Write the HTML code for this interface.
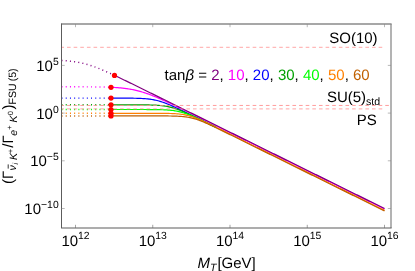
<!DOCTYPE html>
<html><head><meta charset="utf-8"><title>plot</title>
<style>
html,body{margin:0;padding:0;background:#fff;}
body{width:415px;height:271px;overflow:hidden;font-family:"Liberation Sans",sans-serif;}
svg{display:block;will-change:transform;}
text{font-family:"Liberation Sans",sans-serif;fill:#000;text-rendering:geometricPrecision;}
</style></head><body>
<svg width="415" height="271" viewBox="0 0 415 271">
<rect width="415" height="271" fill="#fff"/>

<path d="M111.00 87.31 L112.00 87.35 L113.00 87.40 L114.00 87.46 L115.00 87.51 L116.00 87.58 L117.00 87.64 L118.00 87.72 L119.00 87.79 L120.00 87.88 L121.00 87.97 L122.00 88.07 L123.00 88.17 L124.00 88.29 L125.00 88.41 L126.00 88.54 L127.00 88.67 L128.00 88.82 L129.00 88.98 L130.00 89.14 L131.00 89.32 L132.00 89.51 L133.00 89.70 L134.00 89.91 L135.00 90.13 L136.00 90.36 L137.00 90.60 L138.00 90.85 L139.00 91.11 L140.00 91.38 L141.00 91.67 L142.00 91.96 L143.00 92.27 L144.00 92.58 L145.00 92.91 L146.00 93.24 L147.00 93.59 L148.00 93.94 L149.00 94.30 L150.00 94.68 L151.00 95.05 L152.00 95.44 L153.00 95.84 L154.00 96.24 L155.00 96.65 L156.00 97.06 L157.00 97.48 L158.00 97.90 L159.00 98.33 L160.00 98.77 L161.00 99.21 L162.00 99.65 L163.00 100.10 L164.00 100.55 L165.00 101.01 L166.00 101.46 L167.00 101.92 L168.00 102.39 L169.00 102.85 L170.00 103.32 L171.00 103.79 L172.00 104.26 L173.00 104.74 L174.00 105.21 L175.00 105.69 L176.00 106.17 L177.00 106.65 L178.00 107.13 L179.00 107.61 L180.00 108.10 L181.00 108.58 L182.00 109.06 L183.00 109.55 L184.00 110.04 L185.00 110.52 L186.00 111.01 L187.00 111.50 L188.00 111.99 L189.00 112.48 L190.00 112.97 L191.00 113.46 L192.00 113.95 L193.00 114.44 L194.00 114.93 L195.00 115.42 L196.00 115.91 L197.00 116.40 L198.00 116.89 L199.00 117.38 L200.00 117.88 L201.00 118.37 L202.00 118.86 L203.00 119.35 L204.00 119.85 L205.00 120.34 L206.00 120.83 L207.00 121.33 L208.00 121.82 L209.00 122.31 L210.00 122.80 L211.00 123.30 L212.00 123.79 L213.00 124.28 L214.00 124.78 L215.00 125.27 L216.00 125.77 L217.00 126.26 L218.00 126.75 L219.00 127.25 L220.00 127.74 L221.00 128.23 L222.00 128.73 L223.00 129.22 L224.00 129.71 L225.00 130.21 L226.00 130.70 L227.00 131.20 L228.00 131.69 L229.00 132.18 L230.00 132.68 L231.00 133.17 L232.00 133.67 L233.00 134.16 L234.00 134.65 L235.00 135.15 L236.00 135.64 L237.00 136.13 L238.00 136.63 L239.00 137.12 L240.00 137.62 L241.00 138.11 L242.00 138.60 L243.00 139.10 L244.00 139.59 L245.00 140.09 L246.00 140.58 L247.00 141.07 L248.00 141.57 L249.00 142.06 L250.00 142.56 L251.00 143.05 L252.00 143.54 L253.00 144.04 L254.00 144.53 L255.00 145.03 L256.00 145.52 L257.00 146.01 L258.00 146.51 L259.00 147.00 L260.00 147.50 L261.00 147.99 L262.00 148.48 L263.00 148.98 L264.00 149.47 L265.00 149.97 L266.00 150.46 L267.00 150.95 L268.00 151.45 L269.00 151.94 L270.00 152.44 L271.00 152.93 L272.00 153.42 L273.00 153.92 L274.00 154.41 L275.00 154.91 L276.00 155.40 L277.00 155.89 L278.00 156.39 L279.00 156.88 L280.00 157.38 L281.00 157.87 L282.00 158.36 L283.00 158.86 L284.00 159.35 L285.00 159.85 L286.00 160.34 L287.00 160.83 L288.00 161.33 L289.00 161.82 L290.00 162.31 L291.00 162.81 L292.00 163.30 L293.00 163.80 L294.00 164.29 L295.00 164.78 L296.00 165.28 L297.00 165.77 L298.00 166.27 L299.00 166.76 L300.00 167.25 L301.00 167.75 L302.00 168.24 L303.00 168.74 L304.00 169.23 L305.00 169.72 L306.00 170.22 L307.00 170.71 L308.00 171.21 L309.00 171.70 L310.00 172.19 L311.00 172.69 L312.00 173.18 L313.00 173.68 L314.00 174.17 L315.00 174.66 L316.00 175.16 L317.00 175.65 L318.00 176.15 L319.00 176.64 L320.00 177.13 L321.00 177.63 L322.00 178.12 L323.00 178.62 L324.00 179.11 L325.00 179.60 L326.00 180.10 L327.00 180.59 L328.00 181.09 L329.00 181.58 L330.00 182.07 L331.00 182.57 L332.00 183.06 L333.00 183.56 L334.00 184.05 L335.00 184.54 L336.00 185.04 L337.00 185.53 L338.00 186.03 L339.00 186.52 L340.00 187.01 L341.00 187.51 L342.00 188.00 L343.00 188.50 L344.00 188.99 L345.00 189.48 L346.00 189.98 L347.00 190.47 L348.00 190.97 L349.00 191.46 L350.00 191.95 L351.00 192.45 L352.00 192.94 L353.00 193.44 L354.00 193.93 L355.00 194.42 L356.00 194.92 L357.00 195.41 L358.00 195.91 L359.00 196.40 L360.00 196.89 L361.00 197.39 L362.00 197.88 L363.00 198.38 L364.00 198.87 L365.00 199.36 L366.00 199.86 L367.00 200.35 L368.00 200.85 L369.00 201.34 L370.00 201.83 L371.00 202.33 L372.00 202.82 L373.00 203.32 L374.00 203.81 L375.00 204.30 L376.00 204.80 L377.00 205.29 L378.00 205.79 L379.00 206.28 L380.00 206.77 L381.00 207.27 L382.00 207.76 L383.00 208.26 L384.00 208.75 L384.50 209.00" fill="none" stroke="#ff00ff" stroke-width="1.2"/>
<path d="M111.00 98.11 L112.00 98.11 L113.00 98.11 L114.00 98.11 L115.00 98.11 L116.00 98.11 L117.00 98.11 L118.00 98.12 L119.00 98.12 L120.00 98.12 L121.00 98.12 L122.00 98.13 L123.00 98.13 L124.00 98.13 L125.00 98.14 L126.00 98.14 L127.00 98.15 L128.00 98.16 L129.00 98.17 L130.00 98.18 L131.00 98.19 L132.00 98.20 L133.00 98.21 L134.00 98.23 L135.00 98.25 L136.00 98.27 L137.00 98.30 L138.00 98.32 L139.00 98.36 L140.00 98.40 L141.00 98.44 L142.00 98.49 L143.00 98.54 L144.00 98.61 L145.00 98.68 L146.00 98.76 L147.00 98.85 L148.00 98.95 L149.00 99.06 L150.00 99.19 L151.00 99.33 L152.00 99.48 L153.00 99.65 L154.00 99.84 L155.00 100.05 L156.00 100.27 L157.00 100.51 L158.00 100.76 L159.00 101.04 L160.00 101.33 L161.00 101.64 L162.00 101.96 L163.00 102.30 L164.00 102.66 L165.00 103.02 L166.00 103.41 L167.00 103.80 L168.00 104.20 L169.00 104.62 L170.00 105.04 L171.00 105.47 L172.00 105.91 L173.00 106.36 L174.00 106.81 L175.00 107.27 L176.00 107.73 L177.00 108.19 L178.00 108.66 L179.00 109.13 L180.00 109.61 L181.00 110.09 L182.00 110.57 L183.00 111.05 L184.00 111.53 L185.00 112.02 L186.00 112.50 L187.00 112.99 L188.00 113.48 L189.00 113.97 L190.00 114.45 L191.00 114.94 L192.00 115.44 L193.00 115.93 L194.00 116.42 L195.00 116.91 L196.00 117.40 L197.00 117.89 L198.00 118.39 L199.00 118.88 L200.00 119.37 L201.00 119.86 L202.00 120.36 L203.00 120.85 L204.00 121.34 L205.00 121.84 L206.00 122.33 L207.00 122.82 L208.00 123.32 L209.00 123.81 L210.00 124.31 L211.00 124.80 L212.00 125.29 L213.00 125.79 L214.00 126.28 L215.00 126.77 L216.00 127.27" fill="none" stroke="#0000ff" stroke-width="1.2"/>
<path d="M111.00 104.80 L112.00 104.80 L113.00 104.80 L114.00 104.80 L115.00 104.80 L116.00 104.80 L117.00 104.80 L118.00 104.80 L119.00 104.80 L120.00 104.80 L121.00 104.80 L122.00 104.80 L123.00 104.80 L124.00 104.80 L125.00 104.81 L126.00 104.81 L127.00 104.81 L128.00 104.81 L129.00 104.81 L130.00 104.81 L131.00 104.81 L132.00 104.81 L133.00 104.82 L134.00 104.82 L135.00 104.82 L136.00 104.83 L137.00 104.83 L138.00 104.83 L139.00 104.84 L140.00 104.84 L141.00 104.85 L142.00 104.86 L143.00 104.87 L144.00 104.88 L145.00 104.89 L146.00 104.90 L147.00 104.92 L148.00 104.94 L149.00 104.96 L150.00 104.98 L151.00 105.01 L152.00 105.04 L153.00 105.07 L154.00 105.11 L155.00 105.16 L156.00 105.21 L157.00 105.27 L158.00 105.34 L159.00 105.42 L160.00 105.50 L161.00 105.60 L162.00 105.71 L163.00 105.83 L164.00 105.96 L165.00 106.11 L166.00 106.27 L167.00 106.45 L168.00 106.65 L169.00 106.86 L170.00 107.09 L171.00 107.34 L172.00 107.61 L173.00 107.89 L174.00 108.19 L175.00 108.51 L176.00 108.84 L177.00 109.19 L178.00 109.55 L179.00 109.93 L180.00 110.31 L181.00 110.71 L182.00 111.12 L183.00 111.54 L184.00 111.97 L185.00 112.41 L186.00 112.85 L187.00 113.30 L188.00 113.75 L189.00 114.21 L190.00 114.68 L191.00 115.14 L192.00 115.61 L193.00 116.09 L194.00 116.56 L195.00 117.04 L196.00 117.52 L197.00 118.01 L198.00 118.49 L199.00 118.98 L200.00 119.46 L201.00 119.95 L202.00 120.44 L203.00 120.93 L204.00 121.42 L205.00 121.91 L206.00 122.40 L207.00 122.89 L208.00 123.38 L209.00 123.87 L210.00 124.36 L211.00 124.86 L212.00 125.35 L213.00 125.84 L214.00 126.33 L215.00 126.83 L216.00 127.32" fill="none" stroke="#00a000" stroke-width="1.2"/>
<path d="M111.00 109.50 L112.00 109.50 L113.00 109.50 L114.00 109.50 L115.00 109.50 L116.00 109.50 L117.00 109.50 L118.00 109.50 L119.00 109.50 L120.00 109.50 L121.00 109.50 L122.00 109.50 L123.00 109.50 L124.00 109.50 L125.00 109.50 L126.00 109.50 L127.00 109.50 L128.00 109.50 L129.00 109.51 L130.00 109.51 L131.00 109.51 L132.00 109.51 L133.00 109.51 L134.00 109.51 L135.00 109.51 L136.00 109.51 L137.00 109.51 L138.00 109.51 L139.00 109.51 L140.00 109.51 L141.00 109.51 L142.00 109.52 L143.00 109.52 L144.00 109.52 L145.00 109.52 L146.00 109.52 L147.00 109.53 L148.00 109.53 L149.00 109.54 L150.00 109.54 L151.00 109.55 L152.00 109.56 L153.00 109.56 L154.00 109.57 L155.00 109.58 L156.00 109.60 L157.00 109.61 L158.00 109.63 L159.00 109.65 L160.00 109.67 L161.00 109.70 L162.00 109.73 L163.00 109.76 L164.00 109.80 L165.00 109.85 L166.00 109.90 L167.00 109.96 L168.00 110.03 L169.00 110.10 L170.00 110.19 L171.00 110.29 L172.00 110.40 L173.00 110.52 L174.00 110.66 L175.00 110.82 L176.00 110.99 L177.00 111.17 L178.00 111.38 L179.00 111.60 L180.00 111.84 L181.00 112.10 L182.00 112.38 L183.00 112.67 L184.00 112.98 L185.00 113.31 L186.00 113.66 L187.00 114.02 L188.00 114.39 L189.00 114.78 L190.00 115.18 L191.00 115.59 L192.00 116.01 L193.00 116.44 L194.00 116.87 L195.00 117.32 L196.00 117.77 L197.00 118.23 L198.00 118.69 L199.00 119.15 L200.00 119.62 L201.00 120.09 L202.00 120.57 L203.00 121.04 L204.00 121.52 L205.00 122.01 L206.00 122.49 L207.00 122.97 L208.00 123.46 L209.00 123.95 L210.00 124.44 L211.00 124.92 L212.00 125.41 L213.00 125.90 L214.00 126.40 L215.00 126.89 L216.00 127.38" fill="none" stroke="#00ff00" stroke-width="1.2"/>
<path d="M111.00 113.30 L112.00 113.30 L113.00 113.30 L114.00 113.30 L115.00 113.30 L116.00 113.30 L117.00 113.30 L118.00 113.30 L119.00 113.30 L120.00 113.30 L121.00 113.30 L122.00 113.30 L123.00 113.30 L124.00 113.30 L125.00 113.30 L126.00 113.30 L127.00 113.30 L128.00 113.30 L129.00 113.30 L130.00 113.30 L131.00 113.30 L132.00 113.30 L133.00 113.30 L134.00 113.30 L135.00 113.30 L136.00 113.30 L137.00 113.30 L138.00 113.30 L139.00 113.30 L140.00 113.30 L141.00 113.30 L142.00 113.30 L143.00 113.30 L144.00 113.30 L145.00 113.30 L146.00 113.31 L147.00 113.31 L148.00 113.31 L149.00 113.31 L150.00 113.31 L151.00 113.31 L152.00 113.31 L153.00 113.31 L154.00 113.32 L155.00 113.32 L156.00 113.32 L157.00 113.33 L158.00 113.33 L159.00 113.34 L160.00 113.34 L161.00 113.35 L162.00 113.36 L163.00 113.37 L164.00 113.38 L165.00 113.39 L166.00 113.40 L167.00 113.42 L168.00 113.44 L169.00 113.47 L170.00 113.49 L171.00 113.52 L172.00 113.56 L173.00 113.60 L174.00 113.65 L175.00 113.70 L176.00 113.77 L177.00 113.84 L178.00 113.92 L179.00 114.01 L180.00 114.12 L181.00 114.24 L182.00 114.37 L183.00 114.52 L184.00 114.68 L185.00 114.87 L186.00 115.07 L187.00 115.29 L188.00 115.52 L189.00 115.78 L190.00 116.06 L191.00 116.35 L192.00 116.67 L193.00 117.00 L194.00 117.35 L195.00 117.71 L196.00 118.09 L197.00 118.48 L198.00 118.88 L199.00 119.29 L200.00 119.72 L201.00 120.15 L202.00 120.59 L203.00 121.04 L204.00 121.49 L205.00 121.95 L206.00 122.41 L207.00 122.88 L208.00 123.35 L209.00 123.82 L210.00 124.30 L211.00 124.78 L212.00 125.26 L213.00 125.75 L214.00 126.23 L215.00 126.72 L216.00 127.20 L217.00 127.69 L218.00 128.18 L219.00 128.67 L220.00 129.16 L221.00 129.65 L222.00 130.14 L223.00 130.63 L224.00 131.13 L225.00 131.62 L226.00 132.11 L227.00 132.60 L228.00 133.10 L229.00 133.59 L230.00 134.08 L231.00 134.58 L232.00 135.07 L233.00 135.56 L234.00 136.06 L235.00 136.55 L236.00 137.04 L237.00 137.54 L238.00 138.03 L239.00 138.53 L240.00 139.02 L241.00 139.51 L242.00 140.01 L243.00 140.50 L244.00 140.99 L245.00 141.49 L246.00 141.98 L247.00 142.48 L248.00 142.97 L249.00 143.46 L250.00 143.96 L251.00 144.45 L252.00 144.95 L253.00 145.44 L254.00 145.93 L255.00 146.43 L256.00 146.92 L257.00 147.42 L258.00 147.91 L259.00 148.40 L260.00 148.90 L261.00 149.39 L262.00 149.89 L263.00 150.38 L264.00 150.87 L265.00 151.37 L266.00 151.86 L267.00 152.36 L268.00 152.85 L269.00 153.34 L270.00 153.84 L271.00 154.33 L272.00 154.83 L273.00 155.32 L274.00 155.81 L275.00 156.31 L276.00 156.80 L277.00 157.30 L278.00 157.79 L279.00 158.28 L280.00 158.78 L281.00 159.27 L282.00 159.77 L283.00 160.26 L284.00 160.75 L285.00 161.25 L286.00 161.74 L287.00 162.24 L288.00 162.73 L289.00 163.22 L290.00 163.72 L291.00 164.21 L292.00 164.71 L293.00 165.20 L294.00 165.69 L295.00 166.19 L296.00 166.68 L297.00 167.18 L298.00 167.67 L299.00 168.16 L300.00 168.66 L301.00 169.15 L302.00 169.65 L303.00 170.14 L304.00 170.63 L305.00 171.13 L306.00 171.62 L307.00 172.11 L308.00 172.61 L309.00 173.10 L310.00 173.60 L311.00 174.09 L312.00 174.58 L313.00 175.08 L314.00 175.57 L315.00 176.07 L316.00 176.56 L317.00 177.05 L318.00 177.55 L319.00 178.04 L320.00 178.54 L321.00 179.03 L322.00 179.52 L323.00 180.02 L324.00 180.51 L325.00 181.01 L326.00 181.50 L327.00 181.99 L328.00 182.49 L329.00 182.98 L330.00 183.48 L331.00 183.97 L332.00 184.46 L333.00 184.96 L334.00 185.45 L335.00 185.95 L336.00 186.44 L337.00 186.93 L338.00 187.43 L339.00 187.92 L340.00 188.42 L341.00 188.91 L342.00 189.40 L343.00 189.90 L344.00 190.39 L345.00 190.89 L346.00 191.38 L347.00 191.87 L348.00 192.37 L349.00 192.86 L350.00 193.36 L351.00 193.85 L352.00 194.34 L353.00 194.84 L354.00 195.33 L355.00 195.83 L356.00 196.32 L357.00 196.81 L358.00 197.31 L359.00 197.80 L360.00 198.30 L361.00 198.79 L362.00 199.28 L363.00 199.78 L364.00 200.27 L365.00 200.77 L366.00 201.26 L367.00 201.75 L368.00 202.25 L369.00 202.74 L370.00 203.24 L371.00 203.73 L372.00 204.22 L373.00 204.72 L374.00 205.21 L375.00 205.71 L376.00 206.20 L377.00 206.69 L378.00 207.19 L379.00 207.68 L380.00 208.18 L381.00 208.67 L382.00 209.16 L383.00 209.66 L384.00 210.15 L384.50 210.40" fill="none" stroke="#ff8000" stroke-width="1.2"/>
<path d="M111.00 115.90 L112.00 115.90 L113.00 115.90 L114.00 115.90 L115.00 115.90 L116.00 115.90 L117.00 115.90 L118.00 115.90 L119.00 115.90 L120.00 115.90 L121.00 115.90 L122.00 115.90 L123.00 115.90 L124.00 115.90 L125.00 115.90 L126.00 115.90 L127.00 115.90 L128.00 115.90 L129.00 115.90 L130.00 115.90 L131.00 115.90 L132.00 115.90 L133.00 115.90 L134.00 115.90 L135.00 115.90 L136.00 115.90 L137.00 115.90 L138.00 115.90 L139.00 115.90 L140.00 115.90 L141.00 115.90 L142.00 115.90 L143.00 115.90 L144.00 115.90 L145.00 115.90 L146.00 115.90 L147.00 115.90 L148.00 115.90 L149.00 115.90 L150.00 115.90 L151.00 115.91 L152.00 115.91 L153.00 115.91 L154.00 115.91 L155.00 115.91 L156.00 115.91 L157.00 115.91 L158.00 115.92 L159.00 115.92 L160.00 115.92 L161.00 115.93 L162.00 115.93 L163.00 115.93 L164.00 115.94 L165.00 115.95 L166.00 115.95 L167.00 115.96 L168.00 115.97 L169.00 115.99 L170.00 116.00 L171.00 116.02 L172.00 116.04 L173.00 116.06 L174.00 116.08 L175.00 116.11 L176.00 116.15 L177.00 116.19 L178.00 116.24 L179.00 116.29 L180.00 116.35 L181.00 116.42 L182.00 116.50 L183.00 116.59 L184.00 116.69 L185.00 116.81 L186.00 116.93 L187.00 117.08 L188.00 117.24 L189.00 117.42 L190.00 117.62 L191.00 117.83 L192.00 118.06 L193.00 118.32 L194.00 118.59 L195.00 118.88 L196.00 119.19 L197.00 119.52 L198.00 119.86 L199.00 120.22 L200.00 120.59 L201.00 120.98 L202.00 121.38 L203.00 121.79 L204.00 122.21 L205.00 122.64 L206.00 123.08 L207.00 123.52 L208.00 123.98 L209.00 124.43 L210.00 124.90 L211.00 125.36 L212.00 125.83 L213.00 126.31 L214.00 126.78 L215.00 127.26 L216.00 127.74 L217.00 128.23 L218.00 128.71 L219.00 129.20 L220.00 129.68 L221.00 130.17 L222.00 130.66 L223.00 131.15 L224.00 131.64 L225.00 132.13 L226.00 132.62 L227.00 133.11 L228.00 133.60 L229.00 134.10 L230.00 134.59 L231.00 135.08 L232.00 135.57 L233.00 136.07 L234.00 136.56 L235.00 137.05 L236.00 137.55 L237.00 138.04 L238.00 138.53 L239.00 139.03 L240.00 139.52 L241.00 140.02 L242.00 140.51 L243.00 141.00 L244.00 141.50 L245.00 141.99 L246.00 142.48 L247.00 142.98 L248.00 143.47 L249.00 143.97 L250.00 144.46 L251.00 144.95 L252.00 145.45 L253.00 145.94 L254.00 146.44 L255.00 146.93 L256.00 147.42 L257.00 147.92 L258.00 148.41 L259.00 148.91 L260.00 149.40 L261.00 149.89 L262.00 150.39 L263.00 150.88 L264.00 151.38 L265.00 151.87 L266.00 152.36 L267.00 152.86 L268.00 153.35 L269.00 153.85 L270.00 154.34 L271.00 154.83 L272.00 155.33 L273.00 155.82 L274.00 156.32 L275.00 156.81 L276.00 157.30 L277.00 157.80 L278.00 158.29 L279.00 158.79 L280.00 159.28 L281.00 159.77 L282.00 160.27 L283.00 160.76 L284.00 161.26 L285.00 161.75 L286.00 162.24 L287.00 162.74 L288.00 163.23 L289.00 163.73 L290.00 164.22 L291.00 164.71 L292.00 165.21 L293.00 165.70 L294.00 166.20 L295.00 166.69 L296.00 167.18 L297.00 167.68 L298.00 168.17 L299.00 168.66 L300.00 169.16 L301.00 169.65 L302.00 170.15 L303.00 170.64 L304.00 171.13 L305.00 171.63 L306.00 172.12 L307.00 172.62 L308.00 173.11 L309.00 173.60 L310.00 174.10 L311.00 174.59 L312.00 175.09 L313.00 175.58 L314.00 176.07 L315.00 176.57 L316.00 177.06 L317.00 177.56 L318.00 178.05 L319.00 178.54 L320.00 179.04 L321.00 179.53 L322.00 180.03 L323.00 180.52 L324.00 181.01 L325.00 181.51 L326.00 182.00 L327.00 182.50 L328.00 182.99 L329.00 183.48 L330.00 183.98 L331.00 184.47 L332.00 184.97 L333.00 185.46 L334.00 185.95 L335.00 186.45 L336.00 186.94 L337.00 187.44 L338.00 187.93 L339.00 188.42 L340.00 188.92 L341.00 189.41 L342.00 189.91 L343.00 190.40 L344.00 190.89 L345.00 191.39 L346.00 191.88 L347.00 192.38 L348.00 192.87 L349.00 193.36 L350.00 193.86 L351.00 194.35 L352.00 194.85 L353.00 195.34 L354.00 195.83 L355.00 196.33 L356.00 196.82 L357.00 197.32 L358.00 197.81 L359.00 198.30 L360.00 198.80 L361.00 199.29 L362.00 199.79 L363.00 200.28 L364.00 200.77 L365.00 201.27 L366.00 201.76 L367.00 202.26 L368.00 202.75 L369.00 203.24 L370.00 203.74 L371.00 204.23 L372.00 204.73 L373.00 205.22 L374.00 205.71 L375.00 206.21 L376.00 206.70 L377.00 207.20 L378.00 207.69 L379.00 208.18 L380.00 208.68 L381.00 209.17 L382.00 209.67 L383.00 210.16 L384.00 210.65 L384.50 210.90" fill="none" stroke="#c06000" stroke-width="1.2"/>
<path d="M114.50 75.39 L115.50 75.86 L116.50 76.33 L117.50 76.81 L118.50 77.28 L119.50 77.76 L120.50 78.24 L121.50 78.72 L122.50 79.20 L123.50 79.69 L124.50 80.17 L125.50 80.65 L126.50 81.14 L127.50 81.63 L128.50 82.11 L129.50 82.60 L130.50 83.09 L131.50 83.58 L132.50 84.07 L133.50 84.56 L134.50 85.05 L135.50 85.54 L136.50 86.03 L137.50 86.52 L138.50 87.01 L139.50 87.50 L140.50 87.99 L141.50 88.48 L142.50 88.98 L143.50 89.47 L144.50 89.96 L145.50 90.45 L146.50 90.95 L147.50 91.44 L148.50 91.93 L149.50 92.42 L150.50 92.92 L151.50 93.41 L152.50 93.90 L153.50 94.40 L154.50 94.89 L155.50 95.38 L156.50 95.88 L157.50 96.37 L158.50 96.86 L159.50 97.36 L160.50 97.85 L161.50 98.35 L162.50 98.84 L163.50 99.33 L164.50 99.83 L165.50 100.32 L166.50 100.81 L167.50 101.31 L168.50 101.80 L169.50 102.30 L170.50 102.79 L171.50 103.28 L172.50 103.78 L173.50 104.27 L174.50 104.76 L175.50 105.26 L176.50 105.75 L177.50 106.25 L178.50 106.74 L179.50 107.23 L180.50 107.73 L181.50 108.22 L182.50 108.72 L183.50 109.21 L184.50 109.70 L185.50 110.20 L186.50 110.69 L187.50 111.19 L188.50 111.68 L189.50 112.17 L190.50 112.67 L191.50 113.16 L192.50 113.66 L193.50 114.15 L194.50 114.64 L195.50 115.14 L196.50 115.63 L197.50 116.13 L198.50 116.62 L199.50 117.11 L200.50 117.61 L201.50 118.10 L202.50 118.60 L203.50 119.09 L204.50 119.58 L205.50 120.08 L206.50 120.57 L207.50 121.07 L208.50 121.56 L209.50 122.05 L210.50 122.55 L211.50 123.04 L212.50 123.54 L213.50 124.03 L214.50 124.52 L215.50 125.02 L216.50 125.51 L217.50 126.01 L218.50 126.50 L219.50 126.99 L220.50 127.49 L221.50 127.98 L222.50 128.48 L223.50 128.97 L224.50 129.46 L225.50 129.96 L226.50 130.45 L227.50 130.95 L228.50 131.44 L229.50 131.93 L230.50 132.43 L231.50 132.92 L232.50 133.41 L233.50 133.91 L234.50 134.40 L235.50 134.90 L236.50 135.39 L237.50 135.88 L238.50 136.38 L239.50 136.87 L240.50 137.37 L241.50 137.86 L242.50 138.35 L243.50 138.85 L244.50 139.34 L245.50 139.84 L246.50 140.33 L247.50 140.82 L248.50 141.32 L249.50 141.81 L250.50 142.31 L251.50 142.80 L252.50 143.29 L253.50 143.79 L254.50 144.28 L255.50 144.78 L256.50 145.27 L257.50 145.76 L258.50 146.26 L259.50 146.75 L260.50 147.25 L261.50 147.74 L262.50 148.23 L263.50 148.73 L264.50 149.22 L265.50 149.72 L266.50 150.21 L267.50 150.70 L268.50 151.20 L269.50 151.69 L270.50 152.19 L271.50 152.68 L272.50 153.17 L273.50 153.67 L274.50 154.16 L275.50 154.66 L276.50 155.15 L277.50 155.64 L278.50 156.14 L279.50 156.63 L280.50 157.13 L281.50 157.62 L282.50 158.11 L283.50 158.61 L284.50 159.10 L285.50 159.60 L286.50 160.09 L287.50 160.58 L288.50 161.08 L289.50 161.57 L290.50 162.07 L291.50 162.56 L292.50 163.05 L293.50 163.55 L294.50 164.04 L295.50 164.54 L296.50 165.03 L297.50 165.52 L298.50 166.02 L299.50 166.51 L300.50 167.01 L301.50 167.50 L302.50 167.99 L303.50 168.49 L304.50 168.98 L305.50 169.48 L306.50 169.97 L307.50 170.46 L308.50 170.96 L309.50 171.45 L310.50 171.95 L311.50 172.44 L312.50 172.93 L313.50 173.43 L314.50 173.92 L315.50 174.42 L316.50 174.91 L317.50 175.40 L318.50 175.90 L319.50 176.39 L320.50 176.89 L321.50 177.38 L322.50 177.87 L323.50 178.37 L324.50 178.86 L325.50 179.36 L326.50 179.85 L327.50 180.34 L328.50 180.84 L329.50 181.33 L330.50 181.83 L331.50 182.32 L332.50 182.81 L333.50 183.31 L334.50 183.80 L335.50 184.29 L336.50 184.79 L337.50 185.28 L338.50 185.78 L339.50 186.27 L340.50 186.76 L341.50 187.26 L342.50 187.75 L343.50 188.25 L344.50 188.74 L345.50 189.23 L346.50 189.73 L347.50 190.22 L348.50 190.72 L349.50 191.21 L350.50 191.70 L351.50 192.20 L352.50 192.69 L353.50 193.19 L354.50 193.68 L355.50 194.17 L356.50 194.67 L357.50 195.16 L358.50 195.66 L359.50 196.15 L360.50 196.64 L361.50 197.14 L362.50 197.63 L363.50 198.13 L364.50 198.62 L365.50 199.11 L366.50 199.61 L367.50 200.10 L368.50 200.60 L369.50 201.09 L370.50 201.58 L371.50 202.08 L372.50 202.57 L373.50 203.07 L374.50 203.56 L375.50 204.05 L376.50 204.55 L377.50 205.04 L378.50 205.54 L379.50 206.03 L380.50 206.52 L381.50 207.02 L382.50 207.51 L383.50 208.01 L384.50 208.50" fill="none" stroke="#800080" stroke-width="1.2"/>
<path d="M61.50 60.46 L62.50 60.52 L63.50 60.58 L64.50 60.64 L65.50 60.71 L66.50 60.79 L67.50 60.88 L68.50 60.97 L69.50 61.06 L70.50 61.17 L71.50 61.28 L72.50 61.41 L73.50 61.54 L74.50 61.68 L75.50 61.83 L76.50 61.99 L77.50 62.16 L78.50 62.35 L79.50 62.54 L80.50 62.74 L81.50 62.96 L82.50 63.19 L83.50 63.43 L84.50 63.68 L85.50 63.94 L86.50 64.22 L87.50 64.51 L88.50 64.80 L89.50 65.11 L90.50 65.43 L91.50 65.76 L92.50 66.10 L93.50 66.45 L94.50 66.82 L95.50 67.18 L96.50 67.56 L97.50 67.95 L98.50 68.34 L99.50 68.74 L100.50 69.15 L101.50 69.57 L102.50 69.99 L103.50 70.42 L104.50 70.85 L105.50 71.28 L106.50 71.73 L107.50 72.17 L108.50 72.62 L109.50 73.08 L110.50 73.53 L111.50 73.99 L112.50 74.46 L113.50 74.92 L114.50 75.39" fill="none" stroke="#800080" stroke-width="1.45" stroke-dasharray="1.0 3.22"/>
<path d="M61.50 86.80 L62.50 86.81 L63.50 86.81 L64.50 86.81 L65.50 86.81 L66.50 86.81 L67.50 86.81 L68.50 86.81 L69.50 86.81 L70.50 86.81 L71.50 86.81 L72.50 86.82 L73.50 86.82 L74.50 86.82 L75.50 86.82 L76.50 86.82 L77.50 86.82 L78.50 86.83 L79.50 86.83 L80.50 86.83 L81.50 86.84 L82.50 86.84 L83.50 86.84 L84.50 86.85 L85.50 86.85 L86.50 86.86 L87.50 86.86 L88.50 86.87 L89.50 86.88 L90.50 86.88 L91.50 86.89 L92.50 86.90 L93.50 86.91 L94.50 86.92 L95.50 86.93 L96.50 86.94 L97.50 86.96 L98.50 86.97 L99.50 86.99 L100.50 87.00 L101.50 87.02 L102.50 87.04 L103.50 87.06 L104.50 87.09 L105.50 87.12 L106.50 87.14 L107.50 87.18 L108.50 87.21 L109.50 87.25 L110.50 87.29 L111.00 87.31" fill="none" stroke="#ff00ff" stroke-width="1.45" stroke-dasharray="1.0 3.22"/>
<path d="M61.50 98.10 L62.50 98.10 L63.50 98.10 L64.50 98.10 L65.50 98.10 L66.50 98.10 L67.50 98.10 L68.50 98.10 L69.50 98.10 L70.50 98.10 L71.50 98.10 L72.50 98.10 L73.50 98.10 L74.50 98.10 L75.50 98.10 L76.50 98.10 L77.50 98.10 L78.50 98.10 L79.50 98.10 L80.50 98.10 L81.50 98.10 L82.50 98.10 L83.50 98.10 L84.50 98.10 L85.50 98.10 L86.50 98.10 L87.50 98.10 L88.50 98.10 L89.50 98.10 L90.50 98.10 L91.50 98.10 L92.50 98.10 L93.50 98.10 L94.50 98.10 L95.50 98.10 L96.50 98.10 L97.50 98.10 L98.50 98.10 L99.50 98.10 L100.50 98.10 L101.50 98.10 L102.50 98.10 L103.50 98.10 L104.50 98.11 L105.50 98.11 L106.50 98.11 L107.50 98.11 L108.50 98.11 L109.50 98.11 L110.50 98.11 L111.00 98.11" fill="none" stroke="#0000ff" stroke-width="1.45" stroke-dasharray="1.0 3.22"/>
<path d="M61.50 104.80 L62.50 104.80 L63.50 104.80 L64.50 104.80 L65.50 104.80 L66.50 104.80 L67.50 104.80 L68.50 104.80 L69.50 104.80 L70.50 104.80 L71.50 104.80 L72.50 104.80 L73.50 104.80 L74.50 104.80 L75.50 104.80 L76.50 104.80 L77.50 104.80 L78.50 104.80 L79.50 104.80 L80.50 104.80 L81.50 104.80 L82.50 104.80 L83.50 104.80 L84.50 104.80 L85.50 104.80 L86.50 104.80 L87.50 104.80 L88.50 104.80 L89.50 104.80 L90.50 104.80 L91.50 104.80 L92.50 104.80 L93.50 104.80 L94.50 104.80 L95.50 104.80 L96.50 104.80 L97.50 104.80 L98.50 104.80 L99.50 104.80 L100.50 104.80 L101.50 104.80 L102.50 104.80 L103.50 104.80 L104.50 104.80 L105.50 104.80 L106.50 104.80 L107.50 104.80 L108.50 104.80 L109.50 104.80 L110.50 104.80 L111.00 104.80" fill="none" stroke="#00a000" stroke-width="1.45" stroke-dasharray="1.0 3.22"/>
<path d="M61.50 109.50 L62.50 109.50 L63.50 109.50 L64.50 109.50 L65.50 109.50 L66.50 109.50 L67.50 109.50 L68.50 109.50 L69.50 109.50 L70.50 109.50 L71.50 109.50 L72.50 109.50 L73.50 109.50 L74.50 109.50 L75.50 109.50 L76.50 109.50 L77.50 109.50 L78.50 109.50 L79.50 109.50 L80.50 109.50 L81.50 109.50 L82.50 109.50 L83.50 109.50 L84.50 109.50 L85.50 109.50 L86.50 109.50 L87.50 109.50 L88.50 109.50 L89.50 109.50 L90.50 109.50 L91.50 109.50 L92.50 109.50 L93.50 109.50 L94.50 109.50 L95.50 109.50 L96.50 109.50 L97.50 109.50 L98.50 109.50 L99.50 109.50 L100.50 109.50 L101.50 109.50 L102.50 109.50 L103.50 109.50 L104.50 109.50 L105.50 109.50 L106.50 109.50 L107.50 109.50 L108.50 109.50 L109.50 109.50 L110.50 109.50 L111.00 109.50" fill="none" stroke="#00ff00" stroke-width="1.45" stroke-dasharray="1.0 3.22"/>
<path d="M61.50 113.30 L62.50 113.30 L63.50 113.30 L64.50 113.30 L65.50 113.30 L66.50 113.30 L67.50 113.30 L68.50 113.30 L69.50 113.30 L70.50 113.30 L71.50 113.30 L72.50 113.30 L73.50 113.30 L74.50 113.30 L75.50 113.30 L76.50 113.30 L77.50 113.30 L78.50 113.30 L79.50 113.30 L80.50 113.30 L81.50 113.30 L82.50 113.30 L83.50 113.30 L84.50 113.30 L85.50 113.30 L86.50 113.30 L87.50 113.30 L88.50 113.30 L89.50 113.30 L90.50 113.30 L91.50 113.30 L92.50 113.30 L93.50 113.30 L94.50 113.30 L95.50 113.30 L96.50 113.30 L97.50 113.30 L98.50 113.30 L99.50 113.30 L100.50 113.30 L101.50 113.30 L102.50 113.30 L103.50 113.30 L104.50 113.30 L105.50 113.30 L106.50 113.30 L107.50 113.30 L108.50 113.30 L109.50 113.30 L110.50 113.30 L111.00 113.30" fill="none" stroke="#ff8000" stroke-width="1.45" stroke-dasharray="1.0 3.22"/>
<path d="M61.50 115.90 L62.50 115.90 L63.50 115.90 L64.50 115.90 L65.50 115.90 L66.50 115.90 L67.50 115.90 L68.50 115.90 L69.50 115.90 L70.50 115.90 L71.50 115.90 L72.50 115.90 L73.50 115.90 L74.50 115.90 L75.50 115.90 L76.50 115.90 L77.50 115.90 L78.50 115.90 L79.50 115.90 L80.50 115.90 L81.50 115.90 L82.50 115.90 L83.50 115.90 L84.50 115.90 L85.50 115.90 L86.50 115.90 L87.50 115.90 L88.50 115.90 L89.50 115.90 L90.50 115.90 L91.50 115.90 L92.50 115.90 L93.50 115.90 L94.50 115.90 L95.50 115.90 L96.50 115.90 L97.50 115.90 L98.50 115.90 L99.50 115.90 L100.50 115.90 L101.50 115.90 L102.50 115.90 L103.50 115.90 L104.50 115.90 L105.50 115.90 L106.50 115.90 L107.50 115.90 L108.50 115.90 L109.50 115.90 L110.50 115.90 L111.00 115.90" fill="none" stroke="#c06000" stroke-width="1.45" stroke-dasharray="1.0 3.22"/>
<line x1="61.5" y1="47.30" x2="384.5" y2="47.30" stroke="#ff8a8a" stroke-width="0.75" stroke-dasharray="3.6 3.03" stroke-dashoffset="1.1"/>
<line x1="61.5" y1="105.45" x2="391.0" y2="105.45" stroke="#ff8a8a" stroke-width="0.85" stroke-dasharray="3.6 3.03" stroke-dashoffset="1.1"/>
<line x1="61.5" y1="108.90" x2="384.5" y2="108.90" stroke="#ff8a8a" stroke-width="0.75" stroke-dasharray="3.6 3.03" stroke-dashoffset="1.1"/>
<circle cx="114.50" cy="75.39" r="2.6" fill="#ff0000"/>
<circle cx="111.00" cy="87.31" r="2.6" fill="#ff0000"/>
<circle cx="111.00" cy="98.11" r="2.6" fill="#ff0000"/>
<circle cx="111.00" cy="104.80" r="2.6" fill="#ff0000"/>
<circle cx="111.00" cy="109.50" r="2.6" fill="#ff0000"/>
<circle cx="111.00" cy="113.30" r="2.6" fill="#ff0000"/>
<circle cx="111.00" cy="115.90" r="2.6" fill="#ff0000"/>
<line x1="61.5" y1="24.0" x2="391.6" y2="24.0" stroke="#8a8a8a" stroke-width="1.3"/>
<line x1="391.0" y1="24.0" x2="391.0" y2="228.0" stroke="#8a8a8a" stroke-width="1.3"/>
<line x1="61.5" y1="23.4" x2="61.5" y2="228.3" stroke="#5c5c5c" stroke-width="1"/>
<line x1="61.5" y1="227.9" x2="391.6" y2="227.9" stroke="#5c5c5c" stroke-width="1.05"/>
<line x1="75.50" y1="228.0" x2="75.50" y2="224.8" stroke="#666" stroke-width="0.6"/>
<line x1="75.50" y1="24.0" x2="75.50" y2="27.2" stroke="#888" stroke-width="0.6"/>
<text x="75.50" y="245.7" font-size="15" text-anchor="middle">10<tspan font-size="10.4" dy="-6.4">12</tspan></text>
<line x1="152.75" y1="228.0" x2="152.75" y2="224.8" stroke="#666" stroke-width="0.6"/>
<line x1="152.75" y1="24.0" x2="152.75" y2="27.2" stroke="#888" stroke-width="0.6"/>
<text x="152.75" y="245.7" font-size="15" text-anchor="middle">10<tspan font-size="10.4" dy="-6.4">13</tspan></text>
<line x1="230.00" y1="228.0" x2="230.00" y2="224.8" stroke="#666" stroke-width="0.6"/>
<line x1="230.00" y1="24.0" x2="230.00" y2="27.2" stroke="#888" stroke-width="0.6"/>
<text x="230.00" y="245.7" font-size="15" text-anchor="middle">10<tspan font-size="10.4" dy="-6.4">14</tspan></text>
<line x1="307.25" y1="228.0" x2="307.25" y2="224.8" stroke="#666" stroke-width="0.6"/>
<line x1="307.25" y1="24.0" x2="307.25" y2="27.2" stroke="#888" stroke-width="0.6"/>
<text x="307.25" y="245.7" font-size="15" text-anchor="middle">10<tspan font-size="10.4" dy="-6.4">15</tspan></text>
<line x1="384.50" y1="228.0" x2="384.50" y2="224.8" stroke="#666" stroke-width="0.6"/>
<line x1="384.50" y1="24.0" x2="384.50" y2="27.2" stroke="#888" stroke-width="0.6"/>
<text x="384.50" y="245.7" font-size="15" text-anchor="middle">10<tspan font-size="10.4" dy="-6.4">16</tspan></text>
<line x1="61.5" y1="65.40" x2="64.7" y2="65.40" stroke="#888" stroke-width="0.6"/>
<line x1="391.0" y1="65.40" x2="387.8" y2="65.40" stroke="#888" stroke-width="0.6"/>
<text x="58.7" y="71.00" font-size="15" text-anchor="end">10<tspan font-size="10.4" dy="-6.1">5</tspan></text>
<line x1="61.5" y1="113.10" x2="64.7" y2="113.10" stroke="#888" stroke-width="0.6"/>
<line x1="391.0" y1="113.10" x2="387.8" y2="113.10" stroke="#888" stroke-width="0.6"/>
<text x="58.7" y="118.70" font-size="15" text-anchor="end">10<tspan font-size="10.4" dy="-6.1">0</tspan></text>
<line x1="61.5" y1="160.80" x2="64.7" y2="160.80" stroke="#888" stroke-width="0.6"/>
<line x1="391.0" y1="160.80" x2="387.8" y2="160.80" stroke="#888" stroke-width="0.6"/>
<text x="58.7" y="166.40" font-size="15" text-anchor="end">10<tspan font-size="10.4" dy="-6.1">−5</tspan></text>
<line x1="61.5" y1="208.50" x2="64.7" y2="208.50" stroke="#888" stroke-width="0.6"/>
<line x1="391.0" y1="208.50" x2="387.8" y2="208.50" stroke="#888" stroke-width="0.6"/>
<text x="58.7" y="214.10" font-size="15" text-anchor="end">10<tspan font-size="10.4" dy="-6.1">−10</tspan></text>
<text x="377.6" y="42.9" font-size="15" text-anchor="end">SO(10)</text>
<text x="380.2" y="102" font-size="15" text-anchor="end">SU(5)<tspan font-size="10.6" dy="2.5">std</tspan></text>
<text x="376.8" y="125" font-size="15" text-anchor="end">PS</text>
<text x="164.6" y="80" font-size="15">tan<tspan font-style="italic">β</tspan> = <tspan fill="#800080">2</tspan>, <tspan fill="#ff00ff">10</tspan>, <tspan fill="#0000ff">20</tspan>, <tspan fill="#00a000">30</tspan>, <tspan fill="#00ff00">40</tspan>, <tspan fill="#ff8000">50</tspan>, <tspan fill="#c06000">60</tspan></text>
<text x="197.5" y="268.1" font-size="15"><tspan font-style="italic">M</tspan><tspan font-style="italic" font-size="10.6" dy="3.1">T</tspan><tspan dy="-3.1" dx="0.9">[GeV]</tspan></text>
<g transform="translate(13.0 184) rotate(-90)"><text x="0.00" y="0.00" font-size="15.0">(</text><text x="5.00" y="0.00" font-size="15.0">Γ</text><text x="13.60" y="3.30" font-size="10.6" font-style="italic">ν</text><text x="19.50" y="5.20" font-size="7.5" font-style="italic">i</text><text x="23.90" y="3.50" font-size="10.6" font-style="italic">K</text><text x="30.80" y="0.25" font-size="7.5">+</text><text x="36.20" y="0.00" font-size="15.0">/</text><text x="40.40" y="0.00" font-size="15.0">Γ</text><text x="48.20" y="4.30" font-size="10.6" font-style="italic">e</text><text x="54.20" y="-0.80" font-size="7.5">+</text><text x="61.40" y="4.30" font-size="10.6" font-style="italic">K</text><text x="68.70" y="-0.50" font-size="7.5">0</text><text x="74.60" y="0.00" font-size="15.0">)</text><text x="79.55" y="3.20" font-size="10.6">FSU</text><text x="102.65" y="3.20" font-size="10.6">(5)</text><line x1="15.4" y1="-4.8" x2="19.6" y2="-4.8" stroke="#000" stroke-width="0.8"/></g>
</svg></body></html>
